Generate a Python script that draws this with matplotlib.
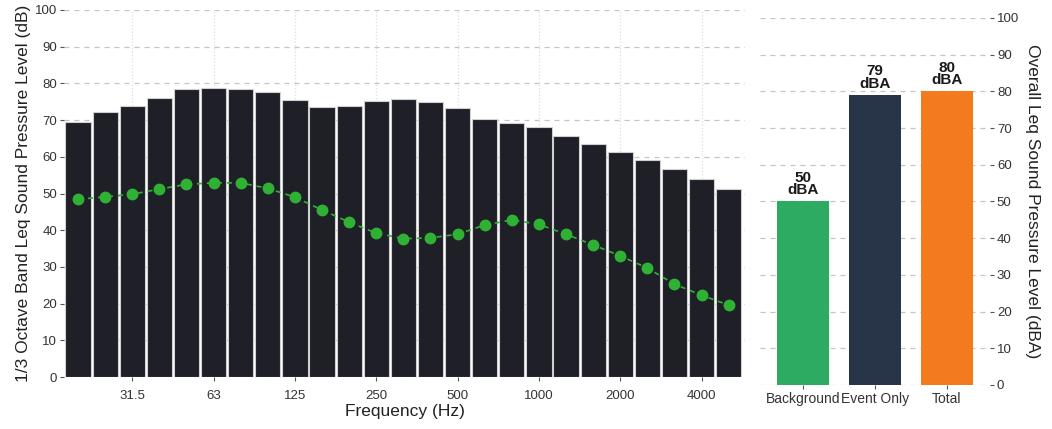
import matplotlib.pyplot as plt
import numpy as np

plt.rcParams['font.family'] = ['Liberation Sans', 'DejaVu Sans']

# 1/3 octave band centre frequencies (Hz)
bands = ['20', '25', '31.5', '40', '50', '63', '80', '100', '125', '160', '200', '250',
         '315', '400', '500', '630', '800', '1000', '1250', '1600', '2000', '2500',
         '3150', '4000', '5000']
# event Leq per band (dB)
event_db = [69.6, 72.3, 73.8, 76.1, 78.4, 78.7, 78.6, 77.7, 75.5, 73.7, 73.8, 75.2,
            75.7, 75.0, 73.2, 70.4, 69.1, 68.2, 65.8, 63.6, 61.3, 59.1, 56.8, 54.0, 51.1]
# background Leq per band (dB)
background_db = [48.4, 49.1, 49.8, 51.2, 52.5, 52.9, 52.9, 51.4, 49.0, 45.5, 42.2, 39.2,
                 37.7, 37.9, 38.9, 41.4, 42.8, 41.6, 38.9, 36.0, 33.0, 29.7, 25.3, 22.3, 19.6]
tick_bands = ['31.5', '63', '125', '250', '500', '1000', '2000', '4000']

# overall levels
overall_names = ['Background', 'Event Only', 'Total']
overall_dba = [50, 79, 80]
overall_colors = ['#2eab62', '#283448', '#f47a1f']

fig = plt.figure(figsize=(10.52, 4.29), dpi=100)
ax = fig.add_axes([0.0608, 0.1212, 0.6473, 0.8555])
ax2 = fig.add_axes([0.7224, 0.1026, 0.2186, 0.8555])

grid_kw = dict(color='#c4c4c4', linestyle=(0, (4, 4)), linewidth=0.9)

# band spectrum
x = np.arange(len(bands))
ax.bar(x, event_db, width=0.93, color='#1f2027', edgecolor='#d0d0d0', linewidth=0.8, zorder=2)
ax.plot(x, background_db, color='#2fb234', linestyle=(0, (3, 3)), linewidth=1.2,
        marker='o', markersize=7.5, zorder=3)
ax.set_xlim(-0.52, 24.6)
ax.set_ylim(0, 100)
ax.set_yticks(range(0, 101, 10))
ax.set_xticks([bands.index(b) for b in tick_bands])
ax.set_xticklabels(tick_bands)
ax.yaxis.grid(True, **grid_kw, zorder=0)
ax.xaxis.grid(True, color='#dddddd', linestyle=':', linewidth=0.9, zorder=0)
ax.set_axisbelow(True)
ax.set_xlabel('Frequency (Hz)', fontsize=12.5, color='#222222', labelpad=2)
ax.set_ylabel('1/3 Octave Band Leq Sound Pressure Level (dB)', fontsize=12.5,
              color='#222222', labelpad=3)
ax.tick_params(axis='both', labelsize=9.5, colors='#555555', labelcolor='#333333',
               length=3, width=0.8, pad=2)
ax.tick_params(axis='x', pad=6)
for s in ax.spines.values():
    s.set_visible(False)

# overall levels
xo = np.arange(len(overall_names))
ax2.bar(xo, overall_dba, width=0.72, color=overall_colors, zorder=2)
for xi, v in zip(xo, overall_dba):
    ax2.text(xi, v + 1.2, f'{v}\ndBA', ha='center', va='bottom', fontsize=11,
             fontweight='bold', color='#1a1a1a', linespacing=0.85)
ax2.set_xlim(-0.6, 2.6)
ax2.set_ylim(0, 100)
ax2.set_yticks(range(0, 101, 10))
ax2.set_xticks(xo)
ax2.set_xticklabels(overall_names)
ax2.yaxis.tick_right()
ax2.yaxis.set_label_position('right')
ax2.yaxis.grid(True, **grid_kw, zorder=0)
ax2.set_axisbelow(True)
ax2.set_ylabel('Overall Leq Sound Pressure Level (dBA)', fontsize=12.5, color='#222222',
               rotation=270, labelpad=15)
ax2.tick_params(axis='both', labelsize=9.5, colors='#555555', labelcolor='#333333',
                length=3, width=0.8, pad=2)
ax2.tick_params(axis='x', labelsize=10)
for s in ax2.spines.values():
    s.set_visible(False)

fig.savefig('out.png', dpi=100)
